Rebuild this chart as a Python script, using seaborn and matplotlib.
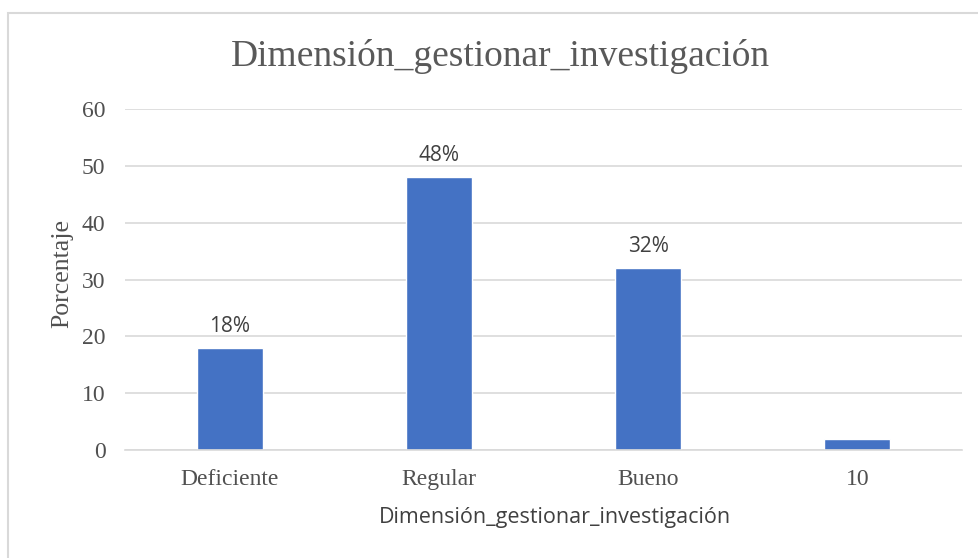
import matplotlib
matplotlib.use("Agg")
import matplotlib.pyplot as plt
import seaborn as sns
import pandas as pd
from matplotlib.patches import Rectangle

categories = ["Deficiente", "Regular", "Bueno", "10"]
values = [18, 48, 32, 2]
labels = ["18%", "48%", "32%", ""]
yticks = [0, 10, 20, 30, 40, 50, 60]

sns.set_theme(style="white")
plt.rcParams['font.family'] = ['Liberation Serif', 'DejaVu Serif']

W, H = 979, 558
fig = plt.figure(figsize=(W / 100, H / 100), dpi=100)
fig.patch.set_facecolor("white")
# outer chart frame
fig.patches.append(Rectangle((8 / W, -0.1), 1.2, (H - 13) / H + 0.1, transform=fig.transFigure,
                             fill=False, edgecolor="#d9d9d9", linewidth=1.5))

left, right, top, bottom = 125, 962, 109, 450
ax = fig.add_axes([left / W, 1 - bottom / H, (right - left) / W, (bottom - top) / H])

df = pd.DataFrame({"cat": categories, "val": values})
sns.barplot(data=df, x="cat", y="val", ax=ax, color="#4472C4", saturation=1, width=0.315)

ax.set_ylim(0, 60)
ax.set_yticks(yticks)
ax.set_xlim(-0.5, len(categories) - 0.5)
ax.yaxis.grid(True, color="#d9d9d9", linewidth=1.2)
ax.set_axisbelow(True)
for s in ["top", "right", "left"]:
    ax.spines[s].set_visible(False)
ax.spines["bottom"].set_color("#d9d9d9")
ax.spines["bottom"].set_linewidth(1.2)
ax.tick_params(axis="both", length=0, labelsize=17)
ax.tick_params(axis="y", pad=14)
ax.tick_params(axis="x", pad=14)
for t in ax.get_xticklabels() + ax.get_yticklabels():
    t.set_color("#505050")

ax.set_xlabel("Dimensión_gestionar_investigación", fontsize=15.5, color="#404040",
              family=["Open Sans", "DejaVu Sans"])
ax.xaxis.set_label_coords((555 - left) / (right - left), -(518 - bottom) / (bottom - top))
ax.xaxis.label.set_va("center")
ax.set_ylabel("Porcentaje", fontsize=18.5, color="#505050")
ax.yaxis.set_label_coords((62 - left) / (right - left), (bottom - 274) / (bottom - top))
ax.yaxis.label.set_va("center")

for i, (v, lab) in enumerate(zip(values, labels)):
    if lab:
        ax.text(i, v + 1.9, lab, ha="center", va="bottom", fontsize=15,
                color="#404040", family=["Open Sans", "DejaVu Sans"])

fig.text(0.5 * (232 + 768) / W, 1 - 57 / H, "Dimensión_gestionar_investigación",
         ha="center", va="center", fontsize=27, color="#595959")

fig.savefig("out.png", dpi=100)
